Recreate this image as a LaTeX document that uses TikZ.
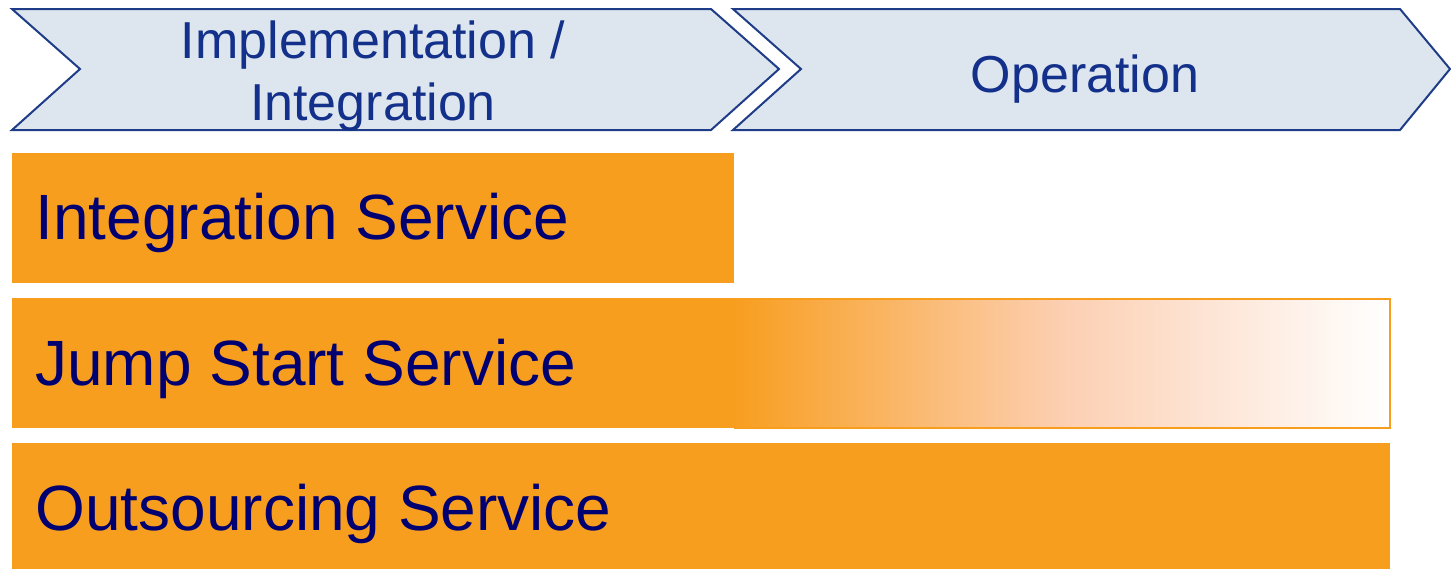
\documentclass[tikz,border=0pt]{standalone}
\usepackage{fontspec}
\setmainfont{Liberation Sans}
\definecolor{phasefill}{HTML}{DDE6EE}
\definecolor{phaseline}{HTML}{1F3C88}
\definecolor{phasetext}{HTML}{13308A}
\definecolor{barfill}{HTML}{F89E1F}
\definecolor{barfade}{HTML}{FCCFB2}
\definecolor{bartext}{HTML}{000070}
\tikzset{
	phase/.style = {fill = phasefill, draw = phaseline, line width = 1pt},
	phaselabel/.style = {text = phasetext, font = \fontsize{26}{31}\selectfont, align = center, inner sep = 0pt},
	barlabel/.style = {text = bartext, font = \fontsize{32}{36}\selectfont, inner sep = 0pt, anchor = base west}
}
\begin{document}
\begin{tikzpicture}[x = 0.5pt, y = -0.5pt]
		\useasboundingbox (0,0) rectangle (1451,569);
		% phases
		\draw [phase] (12,9) -- (711,9) -- (779,69) -- (711,130) -- (12,130) -- (80,69) -- cycle;
		\draw [phase] (733,9) -- (1400,9) -- (1450,69) -- (1400,130) -- (733,130) -- (801,69) -- cycle;
		\node [phaselabel](impl) at (373,76) {Implementation /\\Integration};
		\node [phaselabel, anchor = base](oper) at (1085,92) {Operation};
		% services
		\fill [barfill] (12,153) rectangle (734,283);
		\fill [barfill] (12,298) rectangle (734,428);
		\shade [left color = barfill, right color = white, middle color = barfade] (734,298) rectangle (1390,428);
		\draw [barfill, line width = 1pt] (734,298.5) -- (1389.5,298.5) -- (1389.5,427.5) -- (734,427.5);
		\fill [barfill] (12,443) rectangle (1390,569);
		\node [barlabel](integ) at (35,239) {Integration Service};
		\node [barlabel](jump) at (35,385) {Jump Start Service};
		\node [barlabel](outs) at (35,530) {Outsourcing Service};
\end{tikzpicture}
\end{document}
